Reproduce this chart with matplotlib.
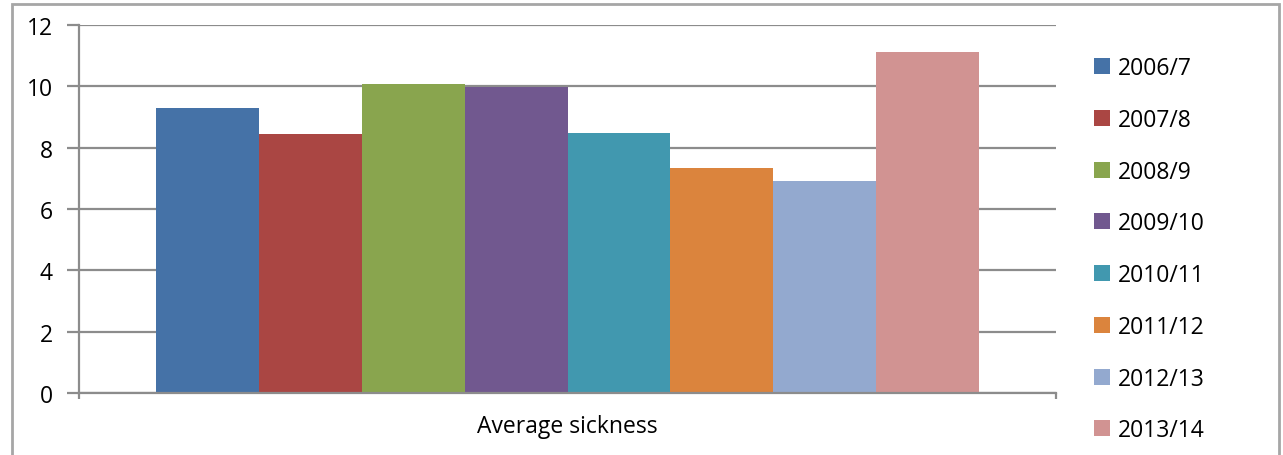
import matplotlib.pyplot as plt
from matplotlib.patches import Rectangle
import numpy as np

plt.rcParams['font.family'] = ['Open Sans', 'DejaVu Sans']

seasons = ['2006/7', '2007/8', '2008/9', '2009/10', '2010/11', '2011/12', '2012/13', '2013/14']
sickness = [9.3, 8.45, 10.07, 9.98, 8.48, 7.34, 6.91, 11.12]
colors = ['#4572a7', '#aa4643', '#89a54e', '#71588f', '#4198af', '#db843d', '#93a9cf', '#d19392']
category = 'Average sickness'

W, H = 1283, 456
fig = plt.figure(figsize=(W / 100, H / 100), dpi=100)

# outer chart frame
fig.patches.append(Rectangle((12 / W, -0.1), 1266.5 / W, 1.1 - 5 / H, transform=fig.transFigure,
                             fill=False, edgecolor='#a6a6a6', linewidth=2))

ax = fig.add_axes([79 / W, 1 - 394 / H, (1056 - 79) / W, (394 - 26) / H])

width = 0.1053
n = len(seasons)
for i, (s, v, c) in enumerate(zip(seasons, sickness, colors)):
    ax.bar((i - (n - 1) / 2) * width, v, width=width, color=c, label=s, zorder=3)

ax.set_xlim(-0.5, 0.5)
ax.set_ylim(0, 12)
ax.set_yticks(np.arange(0, 13, 2))
ax.yaxis.grid(True, color='#8c8c8c', linewidth=1.6, zorder=0)

ax.set_xticks([-0.5, 0.5])
ax.set_xticklabels(['', ''])
ax.tick_params(axis='x', length=4, width=1.6, color='#8c8c8c')
ax.tick_params(axis='y', length=9, width=1.6, color='#8c8c8c', labelsize=16.5, pad=10)
ax.text(0, -0.09, category, transform=ax.get_xaxis_transform(), ha='center', va='center',
        fontsize=16.5)

for side in ['top', 'right']:
    ax.spines[side].set_visible(False)
for side in ['left', 'bottom']:
    ax.spines[side].set_color('#8c8c8c')
    ax.spines[side].set_linewidth(1.6)
ax.spines['bottom'].set_zorder(4)

leg = fig.legend(loc='upper left', bbox_to_anchor=(1085 / W, 1 - 48 / H), frameon=False,
                 fontsize=16.5, handlelength=0.7, handleheight=0.7, handletextpad=0.35,
                 labelspacing=1.21, borderaxespad=0)

fig.savefig('out.png', dpi=100)
